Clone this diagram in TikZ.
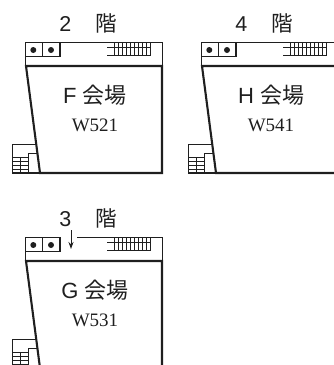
\documentclass[tikz,border=0pt]{standalone}
\usepackage{fontspec}
\setmainfont{Liberation Sans}
\newfontfamily\cjkfont{Noto Sans CJK JP}
\newfontfamily\roomfont{Liberation Serif}
\usetikzlibrary{
  arrows.meta,
  positioning
}
\definecolor{ink}{gray}{0.12}

\begin{document}
\begin{tikzpicture}[
      x=1pt,y=-1pt,
      thin wall/.style={draw=ink,line width=1.05pt},
      thick wall/.style={draw=ink,line width=2.1pt},
      floor label/.style={text=ink,inner sep=0pt,font=\fontsize{21.5}{22}\selectfont},
      hall label/.style={text=ink,inner sep=0pt,font=\fontsize{22}{22}\selectfont},
      room label/.style={text=ink,inner sep=0pt,font=\roomfont\fontsize{19}{19}\selectfont},
      pics/plan/.style n args={3}{code={
         % lifts
         \draw[thin wall] (25.7,42.3) |- (60,56.7) -- (60,42.3);
         \draw[thin wall] (42.5,42.3) -- (42.5,56.7);
         \fill[ink] (33.3,50) circle (3);
         \fill[ink] (51,50) circle (3);
         % upper stairs
         \draw[thin wall] (107,47.5) -- (151,47.5);
         \draw[thin wall] (107,55.5) -- (151,55.5);
         \foreach \x in {114.5,118.5,...,150.5} {
            \draw[draw=ink,line width=1pt] (\x,42.3) -- (\x,55.5);
         }
         % hall walls
         \draw[thin wall] (25.7,56.7) -- (25.7,66);
         \draw[thin wall] (162.3,42.3) -- (162.3,66);
         \draw[thick wall,line join=miter] (26,66) -- (162,66) -- (162,173) -- (40,173) -- cycle;
         % lower stairs
         \draw[thin wall] (36,144.5) -| (12.5,173) -- (40,173);
         \draw[thin wall] (37.5,153.5) -| (28.5,173);
         \draw[thin wall] (20.5,157.5) -- (20.5,173);
         \foreach \y in {157.5,161.5,165.5,169.5} {
            \draw[draw=ink,line width=1pt] (12.5,\y) -- (28.5,\y);
         }
         % labels
         \node (floor) [floor label] at (88,23) {#1\hspace{24pt}{\cjkfont 階}};
         \node (hall) [hall label] at (95,95) {#2 {\cjkfont 会場}};
         \node (room) [room label] at (95,125.5) {#3};
      }}
    ]
  \clip (0,0) rectangle (334,365);
  \useasboundingbox (0,0) rectangle (334,365);
  \pic (f) at (0,0) {plan={2}{F}{W521}};
  \pic (h) at (176,0) {plan={4}{H}{W541}};
  \pic (g) at (0,195) {plan={3}{G}{W531}};
  % upper edges
  \draw[thin wall] (25.7,42.3) -- (162.3,42.3);
  \draw[thin wall] (201.7,42.3) -- (334,42.3);
  \draw[thin wall] (25.7,237.3) -- (60,237.3);
  \draw[thin wall] (77,237.3) -- (162.3,237.3);
  % entrance
  \coordinate (entry top) at (71,230);
  \coordinate (entry end) at (71,249);
  \draw[draw=ink,line width=0.9pt,-{Stealth[length=7pt,width=5pt]}] (entry top) -- (entry end);
\end{tikzpicture}
\end{document}
